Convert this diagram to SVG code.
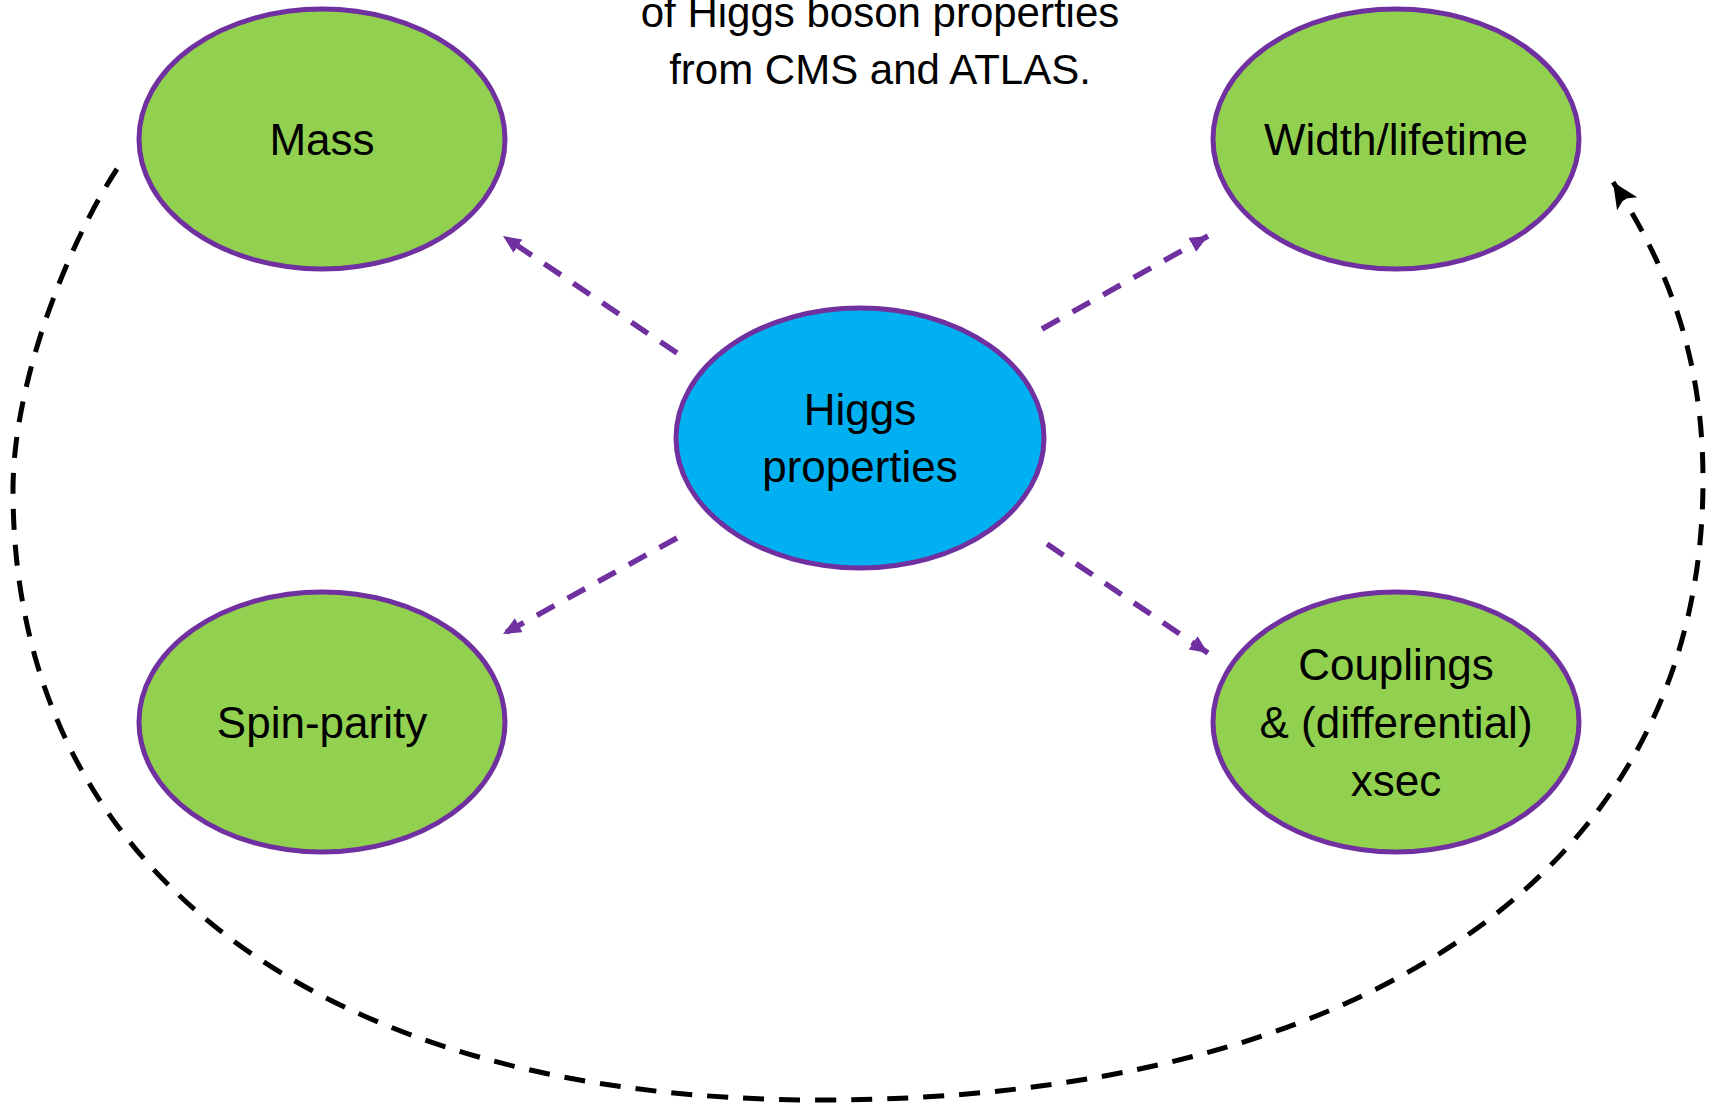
<svg xmlns="http://www.w3.org/2000/svg" width="1712" height="1106" viewBox="0 0 1712 1106">
<style>
.node{stroke:#7030A0;stroke-width:5}
.green{fill:#92D050}
.blue{fill:#00B0F0}
.lbl{font-family:"Liberation Sans",Arial,sans-serif;font-size:44px;fill:#000;text-anchor:middle}
.title{font-family:"Liberation Sans",Arial,sans-serif;font-size:42px;fill:#000;text-anchor:middle}
.pconn{fill:none;stroke:#7030A0;stroke-width:5.5;stroke-dasharray:20 15;marker-end:url(#pa)}
.bconn{fill:none;stroke:#000;stroke-width:5;stroke-dasharray:21 15;marker-end:url(#ba)}
</style>
<defs>
<marker id="pa" markerUnits="userSpaceOnUse" markerWidth="20" markerHeight="18" refX="18" refY="8" orient="auto">
<path d="M0,0 L18,8 L0,16 Z" fill="#7030A0"/>
</marker>
<marker id="ba" markerUnits="userSpaceOnUse" markerWidth="28" markerHeight="26" refX="26" refY="12" orient="auto">
<path d="M0,0 L26,12 L0,24 L6,12 Z" fill="#000"/>
</marker>
</defs>
<rect width="1712" height="1106" fill="#fff"/>
<g id="title">
<text class="title" x="880" y="27">of Higgs boson properties</text>
<text class="title" x="880" y="84">from CMS and ATLAS.</text>
</g>
<g id="connectors">
<path class="pconn" d="M677,353 L503,236"/>
<path class="pconn" d="M1042,329 L1208,236"/>
<path class="pconn" d="M677,538 L503,634"/>
<path class="pconn" d="M1047,544 L1208,653"/>
<path class="bconn" d="M117,169 C70,240 13,380 13,490 C13,870 320,1100 820,1100 C1350,1100 1703,880 1703,480 C1703,360 1670,270 1613,182"/>
</g>
<g id="mass">
<ellipse class="node green" cx="322" cy="139" rx="183" ry="130"/>
<text class="lbl" x="322" y="155">Mass</text>
</g>
<g id="width">
<ellipse class="node green" cx="1396" cy="139" rx="183" ry="130"/>
<text class="lbl" x="1396" y="155">Width/lifetime</text>
</g>
<g id="higgs">
<ellipse class="node blue" cx="860" cy="438" rx="184" ry="130"/>
<text class="lbl" x="860" y="425">Higgs</text>
<text class="lbl" x="860" y="482">properties</text>
</g>
<g id="spin">
<ellipse class="node green" cx="322" cy="722" rx="183" ry="130"/>
<text class="lbl" x="322" y="738">Spin-parity</text>
</g>
<g id="couplings">
<ellipse class="node green" cx="1396" cy="722" rx="183" ry="130"/>
<text class="lbl" x="1396" y="680">Couplings</text>
<text class="lbl" x="1396" y="738">&amp; (differential)</text>
<text class="lbl" x="1396" y="796">xsec</text>
</g>
</svg>
